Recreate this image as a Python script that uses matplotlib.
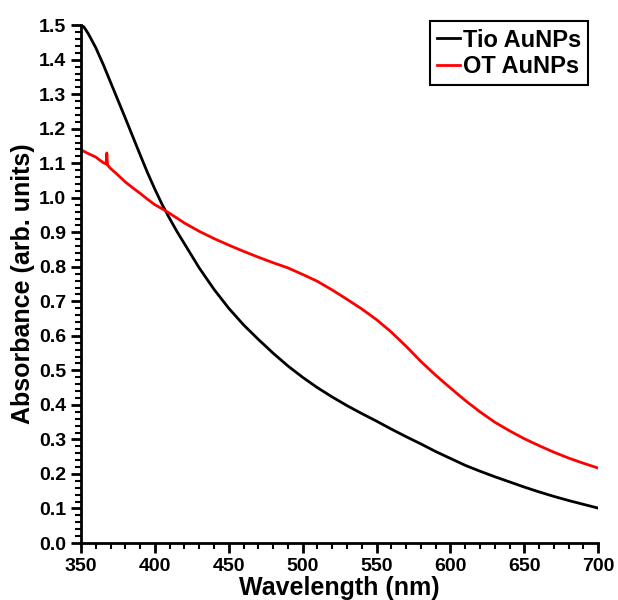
import numpy as np
import matplotlib.pyplot as plt

plt.rcParams['font.family'] = ['Liberation Sans', 'DejaVu Sans']
plt.rcParams['font.weight'] = 'bold'

# Tio AuNPs (black)
tio_nm = [350, 352, 355, 360, 365, 370, 375, 380, 385, 390, 395, 400, 405, 410, 415,
          420, 430, 440, 450, 460, 470, 480, 490, 500, 510, 520, 530, 540, 550, 560,
          570, 580, 590, 600, 610, 620, 630, 640, 650, 660, 670, 680, 690, 700]
tio_abs = [1.500, 1.495, 1.475, 1.435, 1.387, 1.335, 1.283, 1.231, 1.178, 1.125, 1.073,
           1.025, 0.980, 0.940, 0.902, 0.867, 0.797, 0.735, 0.680, 0.632, 0.590, 0.550,
           0.513, 0.480, 0.450, 0.423, 0.398, 0.375, 0.353, 0.330, 0.308, 0.287, 0.265,
           0.245, 0.225, 0.208, 0.192, 0.177, 0.162, 0.148, 0.135, 0.123, 0.112, 0.101]

# OT AuNPs (red)
ot_nm = [350, 355, 360, 365, 367, 367.5, 368, 370, 375, 380, 385, 390, 395, 400, 405,
         410, 420, 430, 440, 450, 460, 470, 480, 490, 500, 510, 520, 530, 540, 550,
         560, 570, 580, 590, 600, 610, 620, 630, 640, 650, 660, 670, 680, 690, 700]
ot_abs = [1.139, 1.128, 1.118, 1.102, 1.098, 1.130, 1.095, 1.085, 1.066, 1.046, 1.029,
          1.013, 0.996, 0.980, 0.968, 0.955, 0.927, 0.903, 0.882, 0.863, 0.845, 0.828,
          0.812, 0.797, 0.778, 0.758, 0.733, 0.706, 0.678, 0.647, 0.611, 0.570, 0.526,
          0.486, 0.449, 0.413, 0.380, 0.350, 0.325, 0.302, 0.282, 0.263, 0.246, 0.231,
          0.217]

fig = plt.figure(figsize=(6.18, 6.0), dpi=100)
ax = fig.add_axes([0.131, 0.095, 0.837, 0.863])

ax.plot(tio_nm, tio_abs, color='black', lw=2, label='Tio AuNPs')
ax.plot(ot_nm, ot_abs, color='red', lw=2, label='OT AuNPs')

ax.set_xlim(350, 700)
ax.set_ylim(0, 1.5)
ax.set_xticks(np.arange(350, 701, 50))
ax.set_xticks(np.arange(350, 701, 10), minor=True)
ax.set_yticks(np.arange(0, 1.51, 0.1))
ax.set_yticks(np.arange(0, 1.51, 0.02), minor=True)
ax.set_yticklabels(['%.1f' % v for v in np.arange(0, 1.51, 0.1)])

for s in ['top', 'right']:
    ax.spines[s].set_visible(False)
for s in ['left', 'bottom']:
    ax.spines[s].set_linewidth(2)

ax.tick_params(which='major', direction='out', length=7, width=2, labelsize=14)
ax.tick_params(which='minor', direction='out', length=4, width=1.5)
for lab in ax.get_xticklabels() + ax.get_yticklabels():
    lab.set_fontweight('bold')

ax.set_xlabel('Wavelength (nm)', fontsize=18, fontweight='bold', labelpad=1)
ax.set_ylabel('Absorbance (arb. units)', fontsize=18, fontweight='bold', labelpad=3)

leg = ax.legend(loc='upper right', bbox_to_anchor=(1.003, 1.03),
                handlelength=1.0, handletextpad=0.1, borderpad=0.3,
                labelspacing=0.15, fancybox=False, framealpha=1,
                prop={'weight': 'bold', 'size': 17})
leg.get_frame().set_edgecolor('black')
leg.get_frame().set_linewidth(1.5)

fig.savefig('out.png', dpi=100)
